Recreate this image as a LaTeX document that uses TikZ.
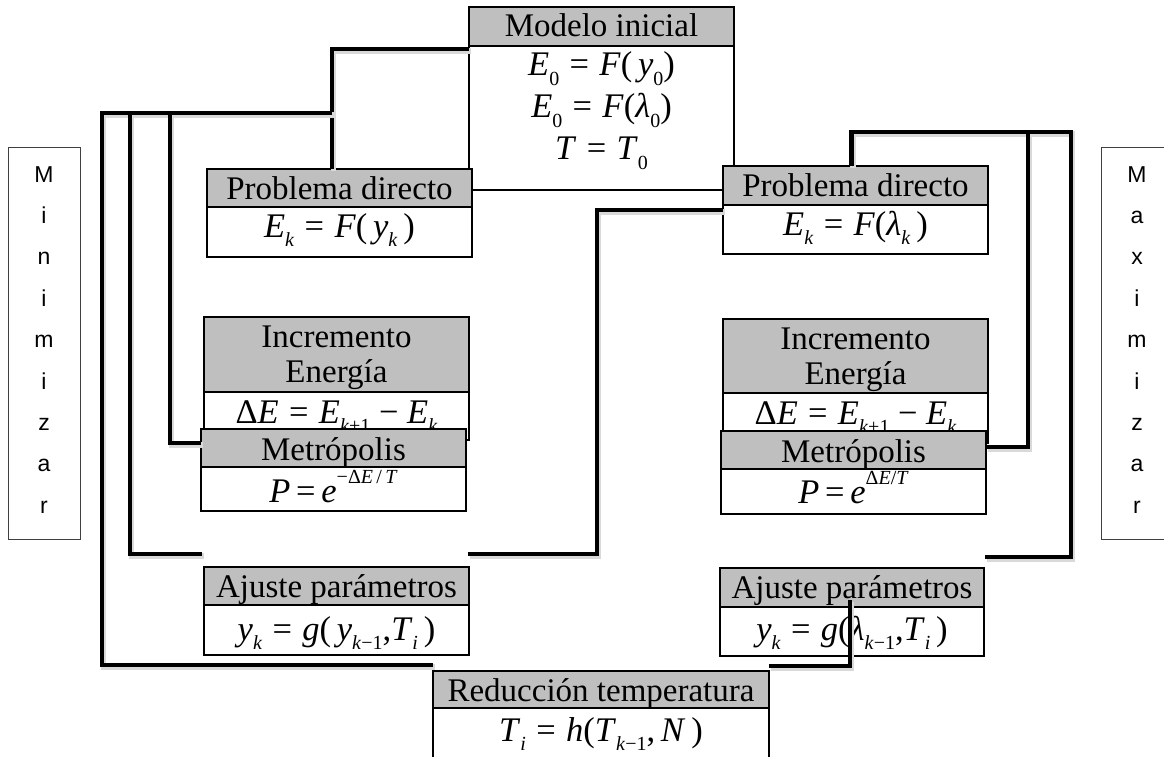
\documentclass[tikz,border=0pt]{standalone}
\usepackage{fontspec}
\usepackage{graphicx}
\setmainfont{Liberation Serif}
\newfontfamily\sidefont{Liberation Sans}
\usetikzlibrary{calc}
\definecolor{hdrgray}{HTML}{BFBFBF}
% formula helpers: sub/superscripts, spaced equals sign
\newcommand\sbs[1]{\raisebox{-0.27em}{\fontsize{20}{20}\selectfont #1}}
\newcommand\sps[1]{\raisebox{0.55em}{\fontsize{20}{20}\selectfont #1}}
\newcommand\eqs{\hspace{0.3em}=\hspace{0.3em}}
\newcommand\mns{\hspace{0.25em}−\hspace{0.25em}}
% a titled panel: name, x1, y1, x2, header bottom, y2
\newcommand\panel[6]{%
  \node[frame, minimum width={(#4-#2)*1pt}, minimum height={(#6-#3)*1pt}, anchor=north west] (#1) at (#2,#3) {};
  \node[head, minimum width={(#4-#2)*1pt}, minimum height={(#5-#3)*1pt}, anchor=north west] (#1h) at (#2,#3) {};
}
\tikzset{
  frame/.style={draw=black, fill=white, line width=1.5, inner sep=0, outer sep=0},
  head/.style={draw=black, fill=hdrgray, line width=1.5, inner sep=0, outer sep=0},
  txt/.style={anchor=base, inner sep=0, font=\fontsize{33}{38}\selectfont},
  fml/.style={anchor=base, inner sep=0, font=\fontsize{34.5}{40}\selectfont},
  side/.style={anchor=base, inner sep=0, font=\sidefont\fontsize{23}{26}\selectfont},
  sidebox/.style={draw=black!75, line width=1, inner sep=0, outer sep=0, anchor=north west,
    minimum width=72pt, minimum height=392pt},
  conn/.style={line width=4.5, line join=miter,
    preaction={draw=black!15, line width=5.5, transform canvas={shift={(1.5,2)}}}},
}
\begin{document}
\begin{tikzpicture}[x=1pt,y=-1pt]
\useasboundingbox (0,0) rectangle (1164,757);
\fill[white] (0,0) rectangle (1164,757);
\clip (0,0) rectangle (1164,757);

% side labels
\node[sidebox] (minbox) at (8,147) {};
\foreach \c [count=\i] in {M,i,n,i,m,i,z,a,r}
  \node[side] (minl\i) at (44,{182+41.4*(\i-1)}) {\c};
\node[sidebox] (maxbox) at (1101,147) {};
\foreach \c [count=\i] in {M,a,x,i,m,i,z,a,r}
  \node[side] (maxl\i) at (1137,{182+41.4*(\i-1)}) {\c};

% initial model
\panel{mi}{469}{7}{734}{46}{190}
\node[txt] (mi-a) at (601.5,37) {Modelo inicial};
\node[fml] (mi-b) at (601.5,76) {\textit{E}\sbs{0}\eqs\textit{F}(\,\textit{y}\sbs{0})};
\node[fml] (mi-c) at (601.5,118) {\textit{E}\sbs{0}\eqs\textit{F}(\textit{λ}\sbs{0})};
\node[fml] (mi-d) at (601.5,160) {\textit{T}\eqs\textit{T}\sbs{0}};

% forward problems
\panel{pdl}{207}{169}{472}{207}{257}
\node[txt] (pdl-a) at (339.5,199) {Problema directo};
\node[fml] (pdl-b) at (339.5,237) {\textit{E}\sbs{\textit{k}}\eqs\textit{F}(\,\textit{y}\sbs{\textit{k}}\,)};
\panel{pdr}{723}{166}{988}{205}{254}
\node[txt] (pdr-a) at (855.5,196) {Problema directo};
\node[fml] (pdr-b) at (855.5,235) {\textit{E}\sbs{\textit{k}}\eqs\textit{F}(\textit{λ}\sbs{\textit{k}}\,)};

% energy increments
\panel{iel}{204}{317}{469}{392}{440}
\node[txt] (iel-a) at (336.5,347) {Incremento};
\node[txt] (iel-b) at (336.5,382) {Energía};
\node[fml] (iel-c) at (336.5,423) {Δ\textit{E}\eqs\textit{E}\sbs{\textit{k}+1}\mns\textit{E}\sbs{\textit{k}}};
\panel{ier}{723}{319}{988}{393}{443}
\node[txt] (ier-a) at (855.5,349) {Incremento};
\node[txt] (ier-b) at (855.5,384) {Energía};
\node[fml] (ier-c) at (855.5,424) {Δ\textit{E}\eqs\textit{E}\sbs{\textit{k}+1}\mns\textit{E}\sbs{\textit{k}}};

% Metropolis criteria
\panel{mel}{201}{429}{466}{467}{511}
\node[txt] (mel-a) at (333.5,460) {Metrópolis};
\node[fml] (mel-b) at (333.5,502) {\textit{P}\,=\,\textit{e}\sps{−Δ\textit{E}\,/\,\textit{T}}};
\panel{mer}{721}{431}{986}{469}{514}
\node[txt] (mer-a) at (853.5,462) {Metrópolis};
\node[fml] (mer-b) at (853.5,503) {\textit{P}\,=\,\textit{e}\sps{Δ\textit{E}/\textit{T}}};

% parameter updates
\panel{ajl}{204}{567}{469}{605}{655}
\node[txt] (ajl-a) at (336.5,597) {Ajuste parámetros};
\node[fml] (ajl-b) at (336.5,640) {\textit{y}\sbs{\textit{k}}\eqs\textit{g}(\,\textit{y}\sbs{\textit{k}−1},\textit{T}\sbs{\textit{i}}\,)};
\panel{ajr}{720}{568}{984}{607}{656}
\node[txt] (ajr-a) at (852,598) {Ajuste parámetros};
\node[fml] (ajr-b) at (852,640) {\textit{y}\sbs{\textit{k}}\eqs\textit{g}(\textit{λ}\sbs{\textit{k}−1},\textit{T}\sbs{\textit{i}}\,)};

% temperature reduction
\panel{red}{433}{671}{769}{708}{800}
\node[txt] (red-a) at (601,701) {Reducción temperatura};
\node[fml] (red-b) at (601,741) {\textit{T}\sbs{\textit{i}}\eqs\textit{h}(\textit{T}\sbs{\textit{k}−1},\,\textit{N}\,)};

% left loop connectors
\coordinate (tl1) at (332,49);
\coordinate (tlj) at (332,113);
\draw[conn] ($(mi.north west)+(0,42)$) -- (tl1) -- (pdl.north -| tl1);
\coordinate (c1) at (102,113);
\coordinate (c1b) at (102,665);
\draw[conn] (tlj) -- (c1) -- (c1b) -- (c1b -| red.west);
\coordinate (c2) at (130,113);
\coordinate (c2b) at (130,554);
\coordinate (f2) at (202,554);
\draw[conn] (c2) -- (c2b) -- (f2);
\coordinate (c3) at (170,113);
\coordinate (c3b) at (170,443);
\draw[conn] (c3) -- (c3b) -- (c3b -| mel.west);

% link between the two loops
\coordinate (fm) at (468,554);
\coordinate (cm) at (597,554);
\draw[conn] (fm) -- (cm) -- (cm |- pdr.west) -- (pdr.west);

% right loop connectors
\coordinate (pdrtop) at ($(pdr.north)+(-4,0)$);
\coordinate (rt) at (1071,132);
\coordinate (rb) at (1071,557);
\coordinate (fr) at (985,557);
\draw[conn] (pdrtop) |- (rt) -- (rb) -- (fr);
\coordinate (ri) at (1028,132);
\coordinate (rib) at (1028,447);
\draw[conn] (ri) -- (rib) -- (rib -| mer.east);
\coordinate (bs) at ($(ajr.north)+(-2,32)$);
\coordinate (bc) at (bs |- 0,666);
\draw[conn] (bs) -- (bc) -- (bc -| red.east);
\end{tikzpicture}
\end{document}
